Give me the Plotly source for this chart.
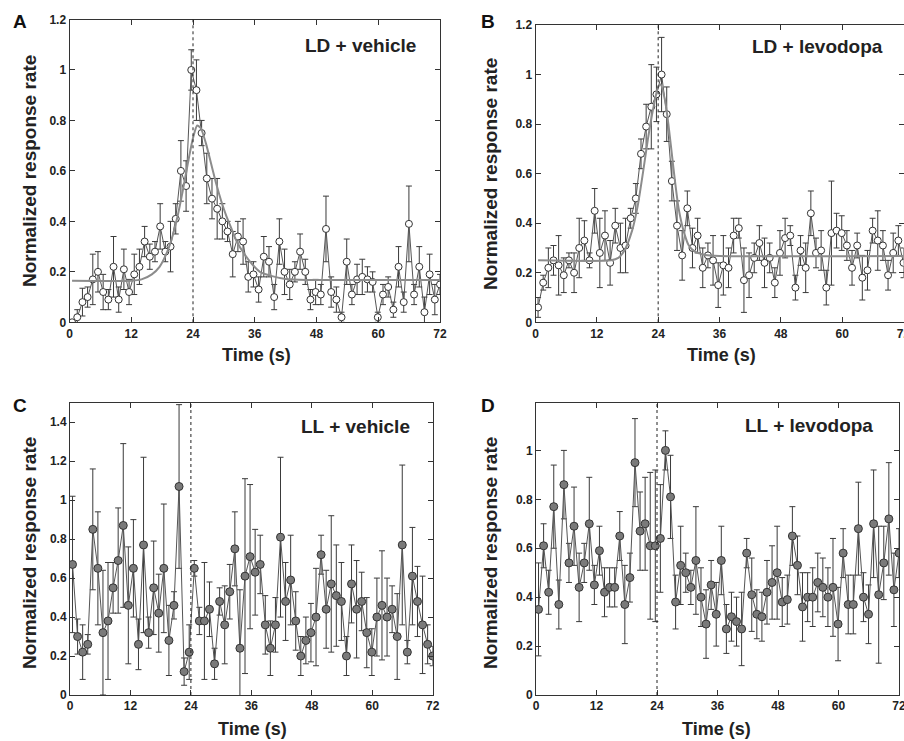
import plotly.graph_objects as go

# ---------------- data ----------------
TIME = [round(0.5 + i * 71.5 / 71, 3) for i in range(72)]

A_VALS = [0.0, 0.02, 0.08, 0.10, 0.17, 0.20, 0.12, 0.09, 0.22, 0.09, 0.21, 0.12, 0.19, 0.22, 0.32, 0.26, 0.28, 0.38,
          0.28, 0.30, 0.41, 0.60, 0.54, 1.00, 0.92, 0.75, 0.57, 0.49, 0.45, 0.40, 0.36, 0.27, 0.34, 0.32, 0.18, 0.19,
          0.13, 0.26, 0.24, 0.10, 0.32, 0.20, 0.15, 0.20, 0.28, 0.20, 0.09, 0.12, 0.11, 0.37, 0.12, 0.09, 0.02, 0.24,
          0.11, 0.17, 0.18, 0.17, 0.16, 0.02, 0.11, 0.14, 0.05, 0.22, 0.08, 0.39, 0.11, 0.22, 0.04, 0.19, 0.09, 0.15]
A_ERR = [0.01, 0.03, 0.055, 0.04, 0.10, 0.08, 0.07, 0.04, 0.12, 0.05, 0.08, 0.05, 0.08, 0.07, 0.06, 0.05, 0.04, 0.09,
         0.04, 0.10, 0.06, 0.12, 0.10, 0.08, 0.12, 0.05, 0.10, 0.08, 0.12, 0.07, 0.04, 0.09, 0.06, 0.09, 0.06, 0.05,
         0.05, 0.08, 0.06, 0.05, 0.09, 0.09, 0.06, 0.04, 0.07, 0.05, 0.04, 0.05, 0.04, 0.13, 0.06, 0.05, 0.02, 0.09,
         0.04, 0.06, 0.07, 0.05, 0.04, 0.02, 0.04, 0.04, 0.03, 0.08, 0.04, 0.15, 0.04, 0.08, 0.06, 0.08, 0.06, 0.04]
A_FIT_T = [0.5, 12, 14, 16, 17.5, 19, 20, 21, 22, 23, 24, 24.8, 25.5, 26.5, 27.5, 28.5, 29.5, 30.5, 31.5, 32.5,
           34, 35.5, 37, 39, 42, 46, 72]
A_FIT_Y = [0.165, 0.165, 0.17, 0.19, 0.22, 0.28, 0.34, 0.42, 0.52, 0.63, 0.73, 0.78, 0.77, 0.71, 0.63, 0.55, 0.48,
           0.42, 0.37, 0.32, 0.27, 0.23, 0.20, 0.185, 0.172, 0.168, 0.168]

B_VALS = [0.06, 0.16, 0.22, 0.25, 0.23, 0.19, 0.25, 0.20, 0.30, 0.33, 0.25, 0.45, 0.28, 0.35, 0.24, 0.39, 0.30, 0.31,
          0.42, 0.50, 0.68, 0.79, 0.87, 0.92, 1.00, 0.84, 0.57, 0.39, 0.27, 0.46, 0.30, 0.35, 0.22, 0.27, 0.25, 0.15,
          0.23, 0.22, 0.35, 0.38, 0.17, 0.19, 0.26, 0.32, 0.24, 0.26, 0.16, 0.28, 0.34, 0.35, 0.14, 0.29, 0.22, 0.44,
          0.28, 0.29, 0.14, 0.36, 0.37, 0.36, 0.31, 0.22, 0.31, 0.18, 0.21, 0.37, 0.33, 0.31, 0.19, 0.28, 0.33, 0.24]
B_ERR = [0.04, 0.03, 0.08, 0.06, 0.12, 0.07, 0.03, 0.08, 0.12, 0.08, 0.03, 0.09, 0.14, 0.10, 0.09, 0.07, 0.10, 0.11,
         0.04, 0.06, 0.06, 0.09, 0.17, 0.11, 0.15, 0.11, 0.08, 0.10, 0.10, 0.07, 0.08, 0.07, 0.08, 0.05, 0.10, 0.09,
         0.12, 0.08, 0.07, 0.04, 0.13, 0.09, 0.06, 0.07, 0.10, 0.06, 0.06, 0.09, 0.08, 0.04, 0.05, 0.06, 0.10, 0.09,
         0.06, 0.08, 0.07, 0.21, 0.07, 0.07, 0.06, 0.07, 0.05, 0.09, 0.08, 0.05, 0.12, 0.06, 0.06, 0.08, 0.06, 0.06]
B_FIT_T = [0.5, 14.8, 16.2, 17.4, 18.9, 20, 21, 22, 23, 24, 24.5, 25.3, 26, 27, 28, 29.1, 30, 31.2, 33.2, 36, 72]
B_FIT_Y = [0.25, 0.25, 0.26, 0.29, 0.37, 0.47, 0.60, 0.74, 0.86, 0.95, 0.96, 0.90, 0.80, 0.62, 0.46, 0.36, 0.31,
           0.285, 0.272, 0.268, 0.268]

C_VALS = [0.67, 0.30, 0.22, 0.26, 0.85, 0.65, 0.32, 0.38, 0.55, 0.69, 0.87, 0.46, 0.65, 0.26, 0.77, 0.32, 0.55, 0.42,
          0.65, 0.28, 0.46, 1.07, 0.12, 0.22, 0.65, 0.38, 0.38, 0.44, 0.16, 0.48, 0.36, 0.53, 0.75, 0.24, 0.61, 0.71,
          0.63, 0.67, 0.36, 0.24, 0.36, 0.81, 0.48, 0.59, 0.38, 0.20, 0.28, 0.32, 0.40, 0.72, 0.44, 0.57, 0.51, 0.48,
          0.20, 0.57, 0.44, 0.48, 0.32, 0.22, 0.40, 0.46, 0.40, 0.44, 0.30, 0.77, 0.22, 0.61, 0.48, 0.36, 0.26, 0.20]
C_ERR = [0.35, 0.09, 0.14, 0.05, 0.31, 0.29, 0.32, 0.30, 0.13, 0.27, 0.42, 0.30, 0.25, 0.13, 0.45, 0.08, 0.24, 0.20,
         0.33, 0.18, 0.07, 0.42, 0.07, 0.14, 0.04, 0.07, 0.30, 0.14, 0.08, 0.07, 0.20, 0.14, 0.19, 0.30, 0.50, 0.37,
         0.22, 0.15, 0.15, 0.14, 0.14, 0.41, 0.20, 0.23, 0.15, 0.10, 0.12, 0.15, 0.25, 0.10, 0.20, 0.35, 0.26, 0.20,
         0.10, 0.20, 0.25, 0.15, 0.18, 0.12, 0.20, 0.28, 0.20, 0.12, 0.22, 0.41, 0.06, 0.25, 0.18, 0.25, 0.10, 0.05]

D_VALS = [0.35, 0.61, 0.42, 0.77, 0.37, 0.86, 0.54, 0.69, 0.44, 0.54, 0.70, 0.45, 0.59, 0.42, 0.44, 0.44, 0.65, 0.37,
          0.48, 0.95, 0.67, 0.70, 0.61, 0.61, 0.64, 1.00, 0.81, 0.38, 0.53, 0.50, 0.44, 0.55, 0.40, 0.29, 0.45, 0.33,
          0.55, 0.27, 0.32, 0.30, 0.27, 0.58, 0.41, 0.33, 0.32, 0.42, 0.46, 0.50, 0.38, 0.39, 0.65, 0.53, 0.36, 0.40,
          0.40, 0.46, 0.44, 0.40, 0.44, 0.29, 0.58, 0.37, 0.37, 0.68, 0.40, 0.33, 0.70, 0.41, 0.54, 0.72, 0.43, 0.58]
D_ERR = [0.19, 0.09, 0.09, 0.17, 0.10, 0.14, 0.08, 0.16, 0.14, 0.08, 0.19, 0.08, 0.10, 0.10, 0.08, 0.08, 0.10, 0.16,
         0.10, 0.18, 0.16, 0.19, 0.30, 0.31, 0.22, 0.08, 0.17, 0.11, 0.16, 0.08, 0.07, 0.22, 0.12, 0.14, 0.10, 0.13,
         0.14, 0.10, 0.10, 0.10, 0.15, 0.06, 0.15, 0.10, 0.10, 0.13, 0.15, 0.19, 0.10, 0.10, 0.12, 0.12, 0.14, 0.10,
         0.12, 0.12, 0.12, 0.12, 0.20, 0.15, 0.10, 0.12, 0.12, 0.19, 0.10, 0.12, 0.22, 0.28, 0.15, 0.23, 0.15, 0.10]

X_TICKS = [0, 12, 24, 36, 48, 60, 72]
STIM_TIME = 24
PANEL_LETTERS = ["A", "B", "C", "D"]
PANEL_TITLES = ["LD + vehicle", "LD + levodopa", "LL + vehicle", "LL + levodopa"]
Y_TITLE = "Normalized response rate"
X_TITLE = "Time (s)"

# ---------------- figure ----------------
W, H = 904, 741
FONT = "Arial, Liberation Sans, Helvetica, sans-serif"


def px(x):
    return x / W


def py(y):
    return 1 - y / H


fig = go.Figure()

panels = [
    dict(vals=A_VALS, err=A_ERR, fit=(A_FIT_T, A_FIT_Y), fill="white",
         xd=[69.5, 440], yd=[322.3, 19.5], yr=[0, 1.2], yt=[0, 0.2, 0.4, 0.6, 0.8, 1, 1.2]),
    dict(vals=B_VALS, err=B_ERR, fit=(B_FIT_T, B_FIT_Y), fill="white",
         xd=[535.5, 903.5], yd=[322.3, 25], yr=[0, 1.2], yt=[0, 0.2, 0.4, 0.6, 0.8, 1, 1.2]),
    dict(vals=C_VALS, err=C_ERR, fit=None, fill="#7a7a7a",
         xd=[70, 432.7], yd=[695, 402.7], yr=[0, 1.5], yt=[0, 0.2, 0.4, 0.6, 0.8, 1, 1.2, 1.4]),
    dict(vals=D_VALS, err=D_ERR, fit=None, fill="#7a7a7a",
         xd=[536, 899], yd=[695, 402.7], yr=[0, 1.195], yt=[0, 0.2, 0.4, 0.6, 0.8, 1]),
]

for i, p in enumerate(panels):
    n = "" if i == 0 else str(i + 1)
    xa, ya = "x" + n, "y" + n
    fig.add_trace(go.Scatter(
        x=TIME, y=p["vals"], xaxis=xa, yaxis=ya, mode="lines+markers",
        line=dict(color="#555555", width=1),
        marker=dict(symbol="circle", size=7 if p["fill"] == "white" else 8, color=p["fill"],
                    line=dict(color="#333333", width=1)),
        error_y=dict(type="data", array=p["err"], visible=True, color="#3a3a3a", thickness=1, width=3),
        showlegend=False, hoverinfo="skip"))
    if p["fit"] is not None:
        fig.add_trace(go.Scatter(
            x=p["fit"][0], y=p["fit"][1], xaxis=xa, yaxis=ya, mode="lines",
            line=dict(color="#8c8c8c", width=2, shape="spline", smoothing=0.6),
            showlegend=False, hoverinfo="skip"))
    axis_common = dict(showline=True, linecolor="#333333", linewidth=1, mirror="ticks",
                       ticks="inside", ticklen=5, tickcolor="#333333", showgrid=False, zeroline=False,
                       automargin=False,
                       tickfont=dict(family=FONT, size=12, color="#222222", weight="bold"))
    fig.update_layout(**{
        "xaxis" + n: dict(domain=[px(p["xd"][0]), px(p["xd"][1])], range=[0, 72], tickvals=X_TICKS,
                          anchor=ya, ticklabeloverflow="allow", **axis_common),
        "yaxis" + n: dict(domain=[py(p["yd"][0]), py(p["yd"][1])], range=p["yr"], tickvals=p["yt"],
                          anchor=xa, **axis_common),
    })
    fig.add_shape(type="line", xref=xa, yref=ya + " domain", x0=STIM_TIME, x1=STIM_TIME, y0=0, y1=1,
                  line=dict(color="#222222", width=1, dash="dot"))

ann = []
letter_pos = [(20, 22), (488, 22), (20, 405), (488, 405)]
title_pos = [(360, 45), (817, 46), (355, 426), (809, 425)]
ytitle_pos = [(29, 171), (490, 174), (29, 553), (490, 553)]
xtitle_pos = [(256, 355), (721, 355), (252, 729), (716, 729)]
for i in range(4):
    ann.append(dict(text=PANEL_LETTERS[i], x=px(letter_pos[i][0]), y=py(letter_pos[i][1]),
                    font=dict(family=FONT, size=19, color="#111111", weight="bold")))
    ann.append(dict(text=PANEL_TITLES[i], x=px(title_pos[i][0]), y=py(title_pos[i][1]),
                    font=dict(family=FONT, size=19, color="#222222", weight="bold")))
    ann.append(dict(text=Y_TITLE, x=px(ytitle_pos[i][0]), y=py(ytitle_pos[i][1]), textangle=-90,
                    font=dict(family=FONT, size=19, color="#222222", weight="bold")))
    ann.append(dict(text=X_TITLE, x=px(xtitle_pos[i][0]), y=py(xtitle_pos[i][1]),
                    font=dict(family=FONT, size=18, color="#222222", weight="bold")))
for a in ann:
    a.update(xref="paper", yref="paper", xanchor="center", yanchor="middle", showarrow=False)

fig.update_layout(width=W, height=H, margin=dict(l=0, r=0, t=0, b=0, autoexpand=False),
                  paper_bgcolor="white", plot_bgcolor="white", annotations=ann)

fig.write_html("out.html", config={"displayModeBar": False},
               post_script="document.body.style.margin='0';document.body.style.overflow='hidden';")
